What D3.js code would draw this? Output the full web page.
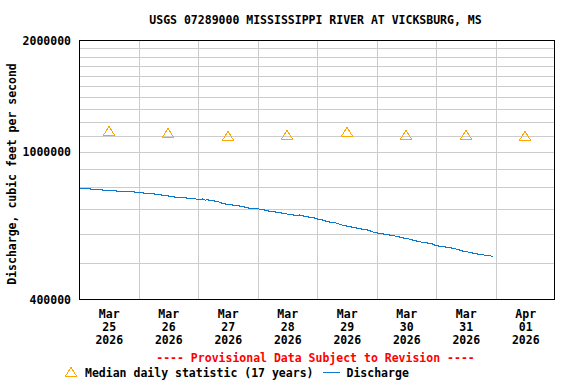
<!DOCTYPE html>
<html>
<head>
<meta charset="utf-8">
<script src="https://cdn.jsdelivr.net/npm/d3@7"></script>
<style>
  html, body { margin: 0; padding: 0; background: #fff; }
  svg text { font-family: "DejaVu Sans Mono", "Liberation Mono", monospace; font-weight: bold; font-size: 11.5px; }
</style>
</head>
<body>
<svg id="chart" width="576" height="384"></svg>
<script>
// ---------- DATA ----------
const chartTitle = "USGS 07289000 MISSISSIPPI RIVER AT VICKSBURG, MS";
const yAxisTitle = "Discharge, cubic feet per second";
const yTickValues = [400000, 1000000, 2000000];
const xTickDays = ["2026-03-25", "2026-03-26", "2026-03-27", "2026-03-28", "2026-03-29", "2026-03-30", "2026-03-31", "2026-04-01"];
const xTickMonths = ["Mar", "Mar", "Mar", "Mar", "Mar", "Mar", "Mar", "Apr"];
const xTickDayNums = ["25", "26", "27", "28", "29", "30", "31", "01"];
const xTickYears = ["2026", "2026", "2026", "2026", "2026", "2026", "2026", "2026"];

const medianValues = [1133000, 1120000, 1099000, 1106000, 1127000, 1106000, 1106000, 1099000];

const dischargeTimes = [
  "2026-03-25T00:00","2026-03-25T01:00","2026-03-25T05:00","2026-03-25T10:00","2026-03-25T12:30",
  "2026-03-25T14:00","2026-03-25T15:00","2026-03-25T17:00","2026-03-25T20:00","2026-03-25T22:00",
  "2026-03-26T02:00","2026-03-26T06:30","2026-03-26T09:30","2026-03-26T12:00","2026-03-26T14:30",
  "2026-03-26T19:30","2026-03-26T23:00","2026-03-27T00:30","2026-03-27T02:00","2026-03-27T03:00",
  "2026-03-27T03:30","2026-03-27T05:00","2026-03-27T07:00","2026-03-27T09:00","2026-03-27T10:00",
  "2026-03-27T12:30","2026-03-27T15:30","2026-03-27T18:00","2026-03-27T19:30","2026-03-27T21:30",
  "2026-03-28T00:30","2026-03-28T03:00","2026-03-28T04:30","2026-03-28T07:00","2026-03-28T09:30",
  "2026-03-28T12:00","2026-03-28T14:30","2026-03-28T16:00","2026-03-28T17:00","2026-03-28T19:00",
  "2026-03-28T21:00","2026-03-28T23:30","2026-03-29T00:00","2026-03-29T02:00","2026-03-29T04:30",
  "2026-03-29T07:30","2026-03-29T10:30","2026-03-29T13:00","2026-03-29T14:30","2026-03-29T17:00",
  "2026-03-29T19:00","2026-03-29T21:00","2026-03-29T23:00","2026-03-30T01:30","2026-03-30T04:00",
  "2026-03-30T06:00","2026-03-30T08:30","2026-03-30T10:30","2026-03-30T12:30","2026-03-30T14:30",
  "2026-03-30T16:30","2026-03-30T19:00","2026-03-30T22:00","2026-03-30T23:45","2026-03-31T01:30",
  "2026-03-31T04:30","2026-03-31T07:00","2026-03-31T09:00","2026-03-31T11:00","2026-03-31T13:30",
  "2026-03-31T16:00","2026-03-31T20:00","2026-03-31T22:00","2026-03-31T22:45"
];
const dischargeValues = [
  797000, 796000, 792000, 787000, 783000,
  787000, 783000, 778000, 782000, 778000,
  773000, 768000, 763000, 759000, 754000,
  749000, 745000, 740000, 745000, 738000,
  742000, 738000, 735000, 729000, 724000,
  719000, 715000, 711000, 706000, 702000,
  700000, 695000, 691000, 687000, 683000,
  678000, 674000, 670000, 674000, 669000,
  665000, 661000, 658000, 654000, 646000,
  642000, 632000, 628000, 624000, 620000,
  616000, 613000, 605000, 601000, 597000,
  594000, 590000, 585000, 582000, 577000,
  573000, 568000, 565000, 558000, 555000,
  552000, 548000, 544000, 538000, 535000,
  530000, 525000, 524000, 520000
];

const provisionalText = "---- Provisional Data Subject to Revision ----";
const legendMedianLabel = "Median daily statistic (17 years)";
const legendDischargeLabel = "Discharge";

// ---------- LAYOUT ----------
const W = 576, H = 384;
const M = { left: 79, top: 40, right: 555, bottom: 299 };
const svg = d3.select("#chart");

const parseTime = d3.timeParse("%Y-%m-%dT%H:%M");
const parseDay = d3.timeParse("%Y-%m-%d");

const x = d3.scaleTime()
  .domain([parseDay("2026-03-25"), parseDay("2026-04-02")])
  .range([M.left, M.right]);
const y = d3.scaleLog()
  .domain([400000, 2000000])
  .range([M.bottom, M.top]);

// grid
const gridColor = "#cccccc";
const hGrid = [];
for (let v = 500000; v < 2000000; v += 100000) hGrid.push(v);
const vGrid = d3.timeDay.range(parseDay("2026-03-26"), parseDay("2026-04-02"));

const g = svg.append("g");
g.selectAll("line.hg").data(hGrid).join("line")
  .attr("x1", M.left).attr("x2", M.right)
  .attr("y1", d => Math.round(y(d)) + 0.5).attr("y2", d => Math.round(y(d)) + 0.5)
  .attr("stroke", gridColor).attr("stroke-width", 1);
g.selectAll("line.vg").data(vGrid).join("line")
  .attr("x1", d => Math.round(x(d)) + 0.5).attr("x2", d => Math.round(x(d)) + 0.5)
  .attr("y1", M.top).attr("y2", M.bottom)
  .attr("stroke", gridColor).attr("stroke-width", 1);

// discharge line
const dischargeData = dischargeTimes.map((t, i) => ({ t: parseTime(t), v: dischargeValues[i] }));
const line = d3.line().x(d => x(d.t)).y(d => y(d.v));
svg.append("path")
  .datum(dischargeData)
  .attr("d", line)
  .attr("fill", "none")
  .attr("stroke", "#0a7bcc")
  .attr("stroke-width", 1.1)
  .attr("shape-rendering", "crispEdges");

// median triangles
const triPath = "M0,-4.5 L5.5,4 L-5.5,4 Z";
const noon = d => d3.timeHour.offset(parseDay(d), 12);
svg.selectAll("path.med").data(medianValues).join("path")
  .attr("class", "med")
  .attr("d", triPath)
  .attr("transform", (d, i) => `translate(${Math.round(x(noon(xTickDays[i])))},${Math.round(y(d))})`)
  .attr("fill", "none")
  .attr("stroke", "#ffa500")
  .attr("stroke-width", 1)
  .attr("shape-rendering", "crispEdges");

// frame
svg.append("rect")
  .attr("x", M.left + 0.5).attr("y", M.top + 0.5)
  .attr("width", M.right - M.left - 1).attr("height", M.bottom - M.top)
  .attr("fill", "none").attr("stroke", "#000").attr("stroke-width", 1);

// y axis
const yAxis = d3.axisLeft(y).tickValues(yTickValues).tickSize(0).tickPadding(8).tickFormat(d3.format("d"));
const yg = svg.append("g").attr("transform", `translate(${M.left},0)`).call(yAxis);
yg.select(".domain").remove();
yg.selectAll("text").attr("fill", "#000").attr("dy", "0.36em")
  .style("font-family", "DejaVu Sans Mono, monospace").style("font-weight", "bold").style("font-size", "11.5px");

// x axis
const xAxis = d3.axisBottom(x).tickValues(xTickDays.map(noon)).tickSize(0).tickFormat("");
const xg = svg.append("g").attr("transform", `translate(0,${M.bottom})`).call(xAxis);
xg.select(".domain").remove();
xg.selectAll(".tick").each(function (d, i) {
  const t = d3.select(this).append("text")
    .attr("fill", "#000").attr("text-anchor", "middle")
    .style("font-family", "DejaVu Sans Mono, monospace").style("font-weight", "bold").style("font-size", "11.5px");
  [xTickMonths[i], xTickDayNums[i], xTickYears[i]].forEach((s, k) => {
    t.append("tspan").attr("x", 0).attr("y", 19 + k * 12.8).text(s);
  });
});

// title
svg.append("text")
  .attr("x", 315.5).attr("y", 23.5)
  .attr("text-anchor", "middle").attr("fill", "#000")
  .text(chartTitle);

// y axis title
svg.append("text")
  .attr("transform", `translate(15.5,174) rotate(-90)`)
  .attr("text-anchor", "middle").attr("fill", "#000")
  .text(yAxisTitle);

// provisional
svg.append("text")
  .attr("x", 315.5).attr("y", 362)
  .attr("text-anchor", "middle").attr("fill", "#ff0000")
  .text(provisionalText);

// legend
svg.append("path")
  .attr("d", triPath)
  .attr("transform", "translate(71,372)")
  .attr("fill", "none").attr("stroke", "#ffa500").attr("stroke-width", 1)
  .attr("shape-rendering", "crispEdges");
svg.append("text").attr("x", 85).attr("y", 377).attr("fill", "#000").text(legendMedianLabel);
svg.append("line")
  .attr("x1", 323).attr("x2", 340).attr("y1", 372.5).attr("y2", 372.5)
  .attr("stroke", "#0a7bcc").attr("stroke-width", 1);
svg.append("text").attr("x", 346.5).attr("y", 377).attr("fill", "#000").text(legendDischargeLabel);
</script>
</body>
</html>
